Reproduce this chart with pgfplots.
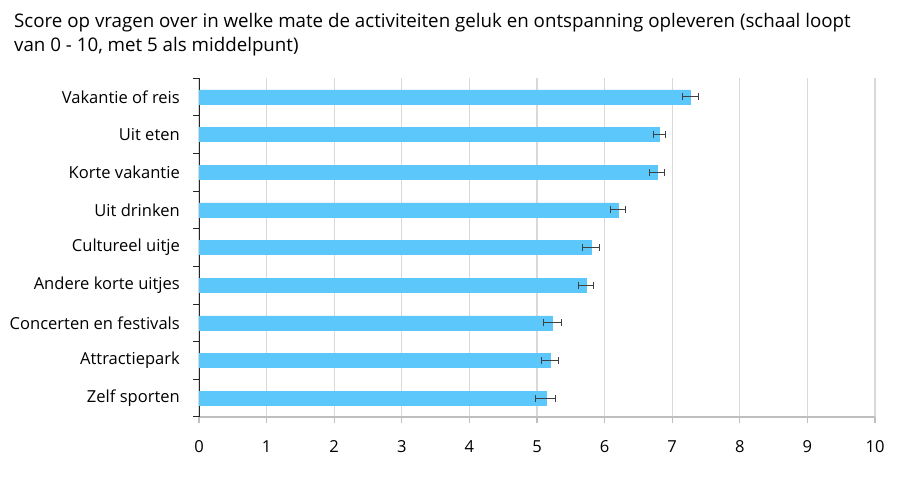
\documentclass[border=0pt]{standalone}
\usepackage{pgfplots}
\pgfplotsset{compat=1.18}
\usepackage{pgfplotstable}
\usepackage{fontspec}
\setmainfont{Open Sans}

\definecolor{barblue}{RGB}{91,199,250}
\definecolor{gridgray}{RGB}{217,217,217}
\definecolor{axgray}{RGB}{191,191,191}
\definecolor{errgray}{RGB}{64,64,64}

% score, half width of error bar (top to bottom)
\pgfplotstableread{
pos score err
0 7.27 0.115
1 6.81 0.09
2 6.78 0.11
3 6.20 0.11
4 5.80 0.12
5 5.73 0.11
6 5.23 0.135
7 5.19 0.13
8 5.13 0.15
}\scores

\begin{document}
\begin{tikzpicture}[x=1bp,y=1bp]
\useasboundingbox (0,0) rectangle (900,488);
\node[anchor=base west, inner sep=0, font=\fontsize{18.8}{22}\selectfont] at (14,460.7)
  {Score op vragen over in welke mate de activiteiten geluk en ontspanning opleveren (schaal loopt};
\node[anchor=base west, inner sep=0, font=\fontsize{18.8}{22}\selectfont] at (14,436.3)
  {van 0 - 10, met 5 als middelpunt)};
\begin{axis}[
    at={(199bp,71bp)}, anchor=south west,
    scale only axis, width=676bp, height=339bp,
    xbar, bar width=14bp, bar shift=0pt,
    xmin=0, xmax=10, ymin=-0.5, ymax=8.5,
    y dir=reverse,
    axis lines*=left,
    x axis line style={axgray, line width=1.3bp},
    y axis line style={black!85, line width=1bp},
    xtick={0,...,10},
    ytick={0,...,8},
    yticklabels={Vakantie of reis, Uit eten, Korte vakantie, Uit drinken,
      Cultureel uitje, Andere korte uitjes, Concerten en festivals,
      Attractiepark, Zelf sporten},
    minor ytick={-0.5,0.5,...,8.5},
    tick align=outside,
    major tick length=6bp, minor tick length=6bp,
    major y tick style={draw=none},
    minor y tick style={black!85, line width=1bp},
    xtick style={axgray, line width=1.3bp},
    xmajorgrids, grid style={gridgray, line width=1.3bp},
    tick label style={font=\fontsize{16.6}{19}\selectfont},
    yticklabel style={inner sep=0pt, xshift=-13bp},
    xticklabel style={inner sep=0pt, yshift=-17bp},
    /pgf/number format/assume math mode=true,
  ]
  \addplot[fill=barblue, draw=barblue,
    error bars/.cd, x dir=both, x explicit,
    error bar style={errgray, line width=1bp},
    error mark options={errgray, line width=1bp, mark size=3.5bp, rotate=90}]
    table[x=score, y=pos, x error=err] {\scores};
\end{axis}
\end{tikzpicture}
\end{document}
